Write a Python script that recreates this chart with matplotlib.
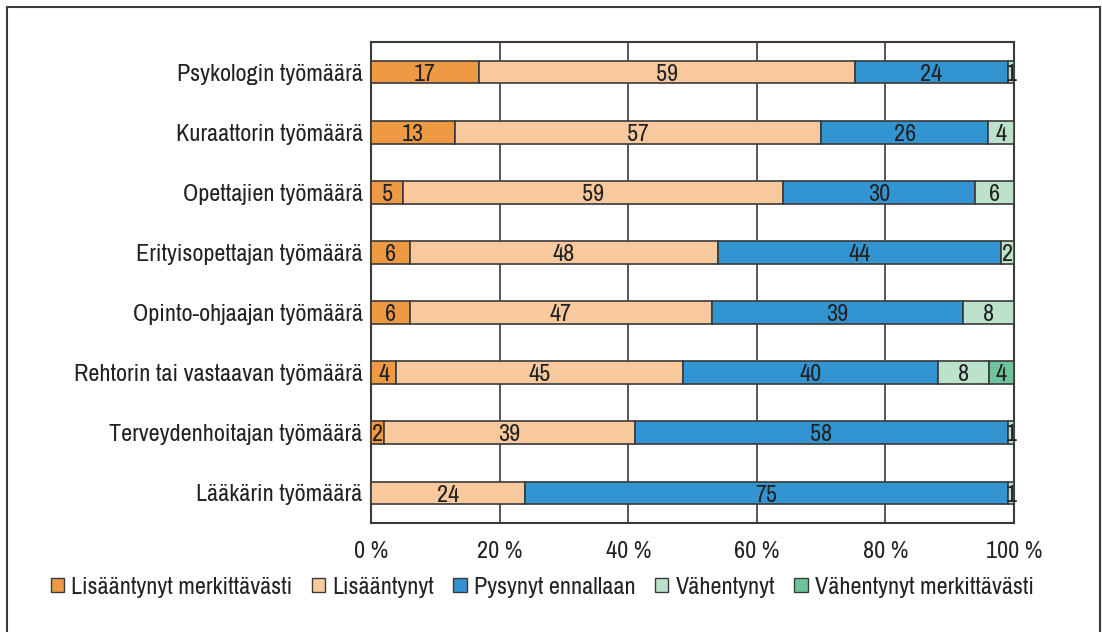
import matplotlib
matplotlib.use("Agg")
import matplotlib.pyplot as plt
from matplotlib.patches import Patch, Rectangle

plt.rcParams['font.family'] = ['Archivo Narrow', 'Liberation Sans', 'DejaVu Sans']

kategoriat = [
    "Psykologin työmäärä",
    "Kuraattorin työmäärä",
    "Opettajien työmäärä",
    "Erityisopettajan työmäärä",
    "Opinto-ohjaajan työmäärä",
    "Rehtorin tai vastaavan työmäärä",
    "Terveydenhoitajan työmäärä",
    "Lääkärin työmäärä",
]

sarjat = ["Lisääntynyt merkittävästi", "Lisääntynyt", "Pysynyt ennallaan",
          "Vähentynyt", "Vähentynyt merkittävästi"]

lisaantynyt_merk = [17, 13, 5, 6, 6, 4, 2, 0]
lisaantynyt = [59, 57, 59, 48, 47, 45, 39, 24]
pysynyt = [24, 26, 30, 44, 39, 40, 58, 75]
vahentynyt = [1, 4, 6, 2, 8, 8, 1, 1]
vahentynyt_merk = [0, 0, 0, 0, 0, 4, 0, 0]

x_tikit = [0, 20, 40, 60, 80, 100]
x_tikkitekstit = ["0 %", "20 %", "40 %", "60 %", "80 %", "100 %"]

varit = ["#EE9A45", "#F7C99C", "#3394D2", "#BCE2CB", "#6DC49C"]
reuna = "#3a3a3a"
teksti = "#222222"
koko = 17.4


def main():
    fig = plt.figure(figsize=(11.02, 6.32), dpi=100)
    ax = fig.add_axes([371 / 1102, 1 - 523 / 632, 643 / 1102, 481 / 632])

    arvot = [lisaantynyt_merk, lisaantynyt, pysynyt, vahentynyt, vahentynyt_merk]
    n = len(kategoriat)
    ypos = list(range(n))

    for i in range(n):
        rivi = [s[i] for s in arvot]
        summa = sum(rivi)
        vasen = 0
        for j, arvo in enumerate(rivi):
            if arvo == 0:
                continue
            leveys = arvo * 100 / summa
            palkki = ax.barh(ypos[i], leveys, left=vasen, height=0.38,
                             color=varit[j], edgecolor=reuna, linewidth=1.2,
                             zorder=3)[0]
            # keskitetaan numero palkin sisaan, pienet leikataan reunaan
            t = ax.text(vasen + leveys / 2, ypos[i] + 0.035, str(arvo), ha="center",
                        va="center", fontsize=koko, color=teksti, zorder=4)
            t.set_clip_path(palkki)
            vasen += leveys

    ax.set_xlim(0, 100)
    ax.set_ylim(n - 0.5, -0.5)
    ax.set_yticks(ypos)
    ax.set_yticklabels(kategoriat, fontsize=koko, color=teksti)
    ax.set_xticks(x_tikit)
    ax.set_xticklabels(x_tikkitekstit, fontsize=koko, color=teksti)
    ax.tick_params(axis="both", length=0)
    ax.tick_params(axis="x", pad=13)
    ax.tick_params(axis="y", pad=6)
    ax.xaxis.grid(True, color=reuna, linewidth=1.2, zorder=1)
    for s in ax.spines.values():
        s.set_color(reuna)
        s.set_linewidth(1.5)

    kahvat = [Patch(facecolor=varit[j], edgecolor=reuna, linewidth=1.0)
              for j in range(len(sarjat))]
    fig.legend(kahvat, sarjat, loc="center", bbox_to_anchor=(0.492, 1 - 587 / 632),
               ncol=5, frameon=False, fontsize=koko, handlelength=0.55,
               handleheight=0.55, handletextpad=0.3, columnspacing=0.8,
               labelcolor=teksti)

    kehys = Rectangle((7 / 1102, -0.1), 1093 / 1102, 1.1 - 7 / 632,
                      transform=fig.transFigure, fill=False, edgecolor=reuna,
                      linewidth=1.5)
    fig.patches.append(kehys)

    fig.savefig("out.png", dpi=100)


if __name__ == "__main__":
    main()
